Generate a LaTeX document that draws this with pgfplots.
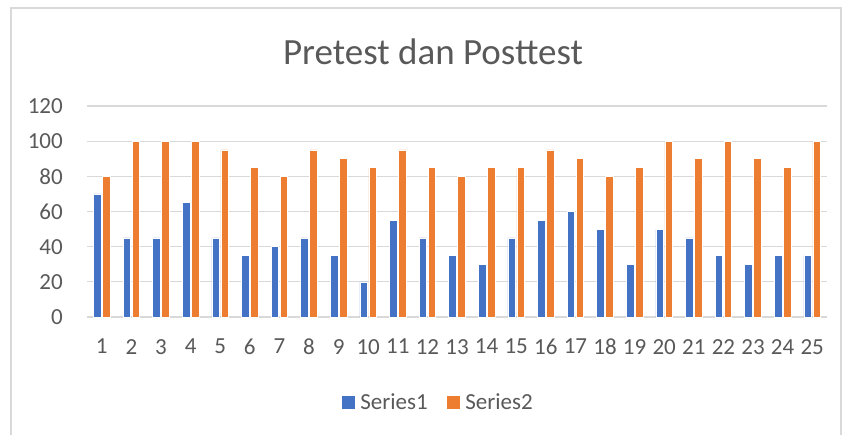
\documentclass[border=0pt]{standalone}
\usepackage{fontspec}
\setmainfont{Carlito}
\usepackage{pgfplots}
\pgfplotsset{compat=1.18}
\definecolor{sblue}{HTML}{4472C4}
\definecolor{sorange}{HTML}{ED7D31}
\definecolor{txt}{HTML}{595959}
\definecolor{gridc}{HTML}{D9D9D9}
\begin{document}
\begin{tikzpicture}[x=1bp,y=1bp]
\path[use as bounding box] (0,0) rectangle (843,435);
\draw[gridc, line width=1.2bp] (11,-2) -- (11,427) -- (841,427) -- (841,-2);
\node[text=txt, font=\fontsize{37bp}{42bp}\selectfont] at (433,383) {Pretest dan Posttest};
\begin{axis}[
  at={(87bp,118bp)}, anchor=south west,
  scale only axis, width=740bp, height=211bp,
  xmin=0.5, xmax=25.5, ymin=0, ymax=120,
  xtick={1,...,25}, ytick={0,20,...,120},
  ymajorgrids, grid style={gridc, line width=1.3bp},
  axis line style={draw=none},
  major tick length=0pt,
  /pgf/number format/assume math mode=true,
  tick label style={text=txt, font=\fontsize{23bp}{27bp}\selectfont, inner sep=0pt},
  yticklabel style={anchor=east, xshift=-24bp},
  xticklabel style={anchor=north, yshift=-22bp},
  ybar=1.5bp, bar width=7.5bp,
  clip=false,
  legend columns=2,
  legend style={at={(0.474,-0.403)}, anchor=center, draw=none, fill=none,
    font=\fontsize{23bp}{27bp}\selectfont, text=txt,
    /tikz/every even column/.append style={column sep=16bp}},
  legend image code/.code={\path (0bp,0bp) -- (17bp,0bp); \fill[#1] (0bp,-7bp) rectangle (14bp,7bp);},
]
\addplot[fill=sblue, draw=white, line width=0.6bp] coordinates {
(1,70) (2,45) (3,45) (4,65) (5,45) (6,35) (7,40) (8,45) (9,35) (10,20)
(11,55) (12,45) (13,35) (14,30) (15,45) (16,55) (17,60) (18,50) (19,30) (20,50)
(21,45) (22,35) (23,30) (24,35) (25,35)};
\addplot[fill=sorange, draw=white, line width=0.6bp] coordinates {
(1,80) (2,100) (3,100) (4,100) (5,95) (6,85) (7,80) (8,95) (9,90) (10,85)
(11,95) (12,85) (13,80) (14,85) (15,85) (16,95) (17,90) (18,80) (19,85) (20,100)
(21,90) (22,100) (23,90) (24,85) (25,100)};
\legend{Series1, Series2}
\end{axis}
\end{tikzpicture}
\end{document}
